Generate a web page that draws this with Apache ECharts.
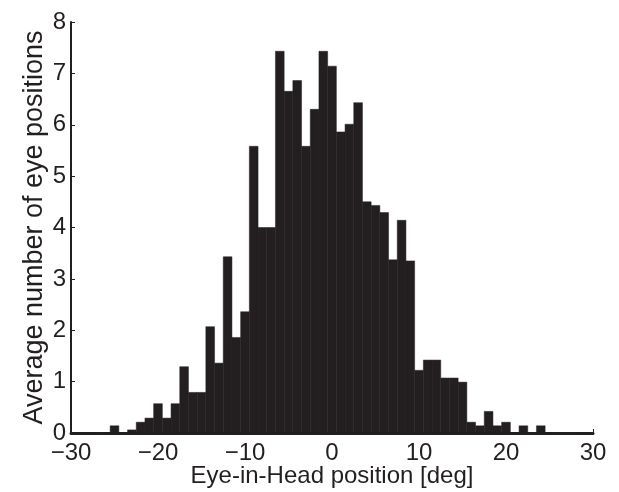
<!DOCTYPE html>
<html>
<head>
<meta charset="utf-8">
<script src="https://cdn.jsdelivr.net/npm/echarts@6/dist/echarts.min.js"></script>
<style>html,body{margin:0;padding:0;background:#fff}#c{width:619px;height:492px}</style>
</head>
<body>
<div id="c"></div>
<script>
// Bin centers (deg), bin width 1
var binCenters = [-25,-24,-23,-22,-21,-20,-19,-18,-17,-16,-15,-14,-13,-12,-11,-10,-9,-8,-7,-6,-5,-4,-3,-2,-1,0,1,2,3,4,5,6,7,8,9,10,11,12,13,14,15,16,17,18,19,20,21,22,23,24];
var counts = [0.14,0,0.06,0.21,0.29,0.57,0.29,0.57,1.29,0.79,0.79,2.07,1.36,3.43,1.86,2.36,5.58,4.0,4.0,7.43,6.65,6.86,5.58,6.30,7.43,7.14,5.86,6.01,6.43,4.50,4.43,4.29,3.37,4.14,3.35,1.22,1.42,1.42,1.07,1.07,0.99,0.21,0.14,0.42,0.14,0.21,0,0.14,0,0.14];
var binWidth = 1;
var xTicks = [-30,-20,-10,0,10,20,30];
var yTicks = [0,1,2,3,4,5,6,7,8];

var data = binCenters.map(function(c,i){return [c, counts[i]];});
var chart = echarts.init(document.getElementById('c'), null, {renderer:'canvas'});
var font = 'Liberation Sans, Arial, Helvetica, sans-serif';
chart.setOption({
  animation:false,
  grid:{left:71, right:26, top:22, bottom:59, containLabel:false, outerBoundsMode:'none'},
  xAxis:{type:'value', min:xTicks[0], max:xTicks[xTicks.length-1], interval:10,
    name:'Eye-in-Head position [deg]', nameLocation:'middle', nameGap:31, nameMoveOverlap:false,
    nameTextStyle:{color:'#231f20', fontSize:24, fontFamily:font},
    axisLine:{show:true, onZero:false, lineStyle:{color:'#231f20', width:3}},
    axisTick:{show:true, inside:true, length:4, lineStyle:{color:'#231f20', width:1}},
    axisLabel:{color:'#231f20', fontSize:24, fontFamily:font, margin:8,
      formatter:function(v){return v<0? '\u2212'+Math.abs(v) : ''+v;}},
    splitLine:{show:false}},
  yAxis:{type:'value', min:yTicks[0], max:yTicks[yTicks.length-1], interval:1,
    name:'Average number of eye positions', nameLocation:'middle', nameGap:23, nameMoveOverlap:false,
    nameTextStyle:{color:'#231f20', fontSize:27, fontFamily:font},
    axisLine:{show:true, onZero:false, lineStyle:{color:'#231f20', width:2}},
    axisTick:{show:true, inside:true, length:4, lineStyle:{color:'#231f20', width:1}},
    axisLabel:{color:'#231f20', fontSize:24, fontFamily:font, margin:5},
    splitLine:{show:false}},
  series:[{
    type:'custom',
    data:data,
    encode:{x:0,y:1},
    renderItem:function(params, api){
      var c = api.value(0), v = api.value(1);
      if(!v) return null;
      var p0 = api.coord([c - binWidth/2, v]);
      var p1 = api.coord([c + binWidth/2, 0]);
      return {type:'rect', shape:{x:p0[0], y:p0[1], width:p1[0]-p0[0], height:p1[1]-p0[1]},
        style:{fill:'#231f20', stroke:'#231f20', lineWidth:0.5}};
    }
  }]
});
</script>
</body>
</html>
